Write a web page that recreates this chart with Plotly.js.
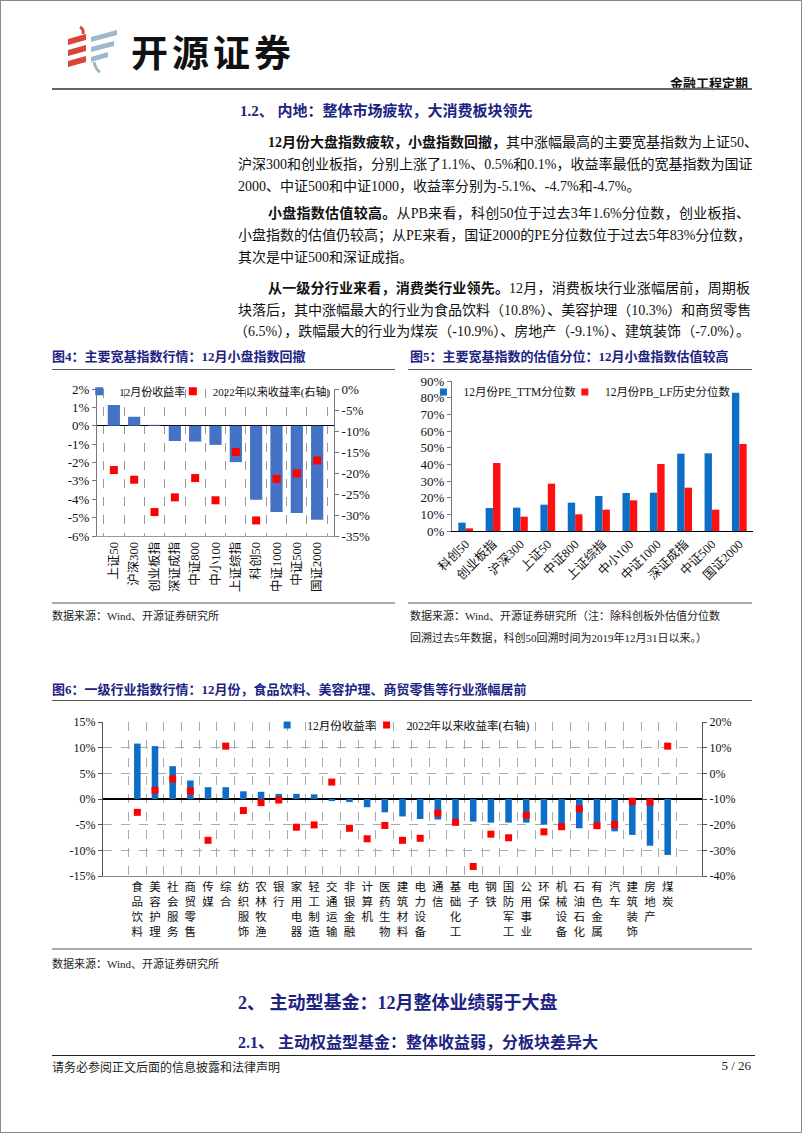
<!DOCTYPE html>
<html><head><meta charset="utf-8">
<script src="https://cdn.plot.ly/plotly-3.0.1.min.js"></script>
<style>
html,body{margin:0;padding:0;background:#fff;}
#page{position:relative;width:802px;height:1133px;overflow:hidden;background:#fff;font-family:"Liberation Serif","Noto Sans CJK SC",serif;color:#111;}
#frame{position:absolute;left:0;top:0;width:800px;height:1131px;border:1px solid #8a8a8a;box-sizing:content-box;pointer-events:none;}
.abs{position:absolute;white-space:nowrap;}
.ln{position:absolute;left:238px;width:512px;font-size:14px;line-height:18px;text-align:justify;text-align-last:justify;white-space:nowrap;}
.ln.ind{left:268px;width:482px;}
.ln.last{text-align-last:left;}
b{font-weight:700;}
.navy{color:#1c2383;font-weight:700;}
.hr{position:absolute;height:0;}
.src{font-size:11px;color:#222;}
</style></head>
<body><div id="page">
<div id="frame"></div>
<svg class="abs" style="left:64px;top:25px" width="60" height="50" viewBox="0 0 60 50">
  <path d="M16 2 q4 2 3 7" stroke="#d8453a" stroke-width="3" fill="none"/>
  <polygon points="4,14 22,9 22,15 4,20" fill="#d8453a"/>
  <polygon points="4,25 22,20 22,26 4,31" fill="#d8453a"/>
  <polygon points="4,36 22,31 22,37 4,42" fill="#d8453a"/>
  <polygon points="27,12 53,5 53,10 27,17" fill="#9db8c8"/>
  <polygon points="27,22 50,16 50,21 27,27" fill="#9db8c8"/>
  <polygon points="27,32 44,27 44,32 27,37" fill="#9db8c8"/>
  <path d="M30 37 q2 8 6 10" stroke="#9db8c8" stroke-width="3" fill="none"/>
</svg>
<div class="abs" style="left:131px;top:24px;font-family:'Noto Sans CJK SC';font-weight:700;font-size:37px;letter-spacing:4px;color:#111;">开源证券</div>
<div class="abs" style="right:54px;top:73px;font-size:13px;font-weight:700;">金融工程定期</div>
<div class="hr" style="left:52px;width:700px;top:88px;border-top:2px solid #666;"></div>

<div class="abs navy" style="left:240px;top:99px;font-size:15px;">1.2、 内地：整体市场疲软，大消费板块领先</div>

<div class="ln ind" style="top:134px;"><b>12月份大盘指数疲软，小盘指数回撤，</b>其中涨幅最高的主要宽基指数为上证50、</div>
<div class="ln" style="top:156px;">沪深300和创业板指，分别上涨了1.1%、0.5%和0.1%，收益率最低的宽基指数为国证</div>
<div class="ln last" style="top:178px;">2000、中证500和中证1000，收益率分别为-5.1%、-4.7%和-4.7%。</div>

<div class="ln ind" style="top:205px;"><b>小盘指数估值较高。</b>从PB来看，科创50位于过去3年1.6%分位数，创业板指、</div>
<div class="ln" style="top:227px;">小盘指数的估值仍较高；从PE来看，国证2000的PE分位数位于过去5年83%分位数，</div>
<div class="ln last" style="top:249px;">其次是中证500和深证成指。</div>

<div class="ln ind" style="top:280px;"><b>从一级分行业来看，消费类行业领先。</b>12月，消费板块行业涨幅居前，周期板</div>
<div class="ln" style="top:302px;">块落后，其中涨幅最大的行业为食品饮料（10.8%）、美容护理（10.3%）和商贸零售</div>
<div class="ln" style="top:323px;left:234px;width:516px;">（6.5%），跌幅最大的行业为煤炭（-10.9%）、房地产（-9.1%）、建筑装饰（-7.0%）。</div>

<div class="abs navy" style="left:52px;top:346px;font-size:13px;">图4：主要宽基指数行情：12月小盘指数回撤</div>
<div class="hr" style="left:52px;width:343px;top:369px;border-top:1.5px solid #555;"></div>
<div class="abs navy" style="left:410px;top:346px;font-size:13px;">图5：主要宽基指数的估值分位：12月小盘指数估值较高</div>
<div class="hr" style="left:408px;width:344px;top:369px;border-top:1.5px solid #555;"></div>

<div id="fig4" class="abs" style="left:52px;top:375px;width:345px;height:230px;"></div>
<div id="fig5" class="abs" style="left:408px;top:372px;width:350px;height:225px;"></div>

<div class="hr" style="left:52px;width:343px;top:602px;border-top:2px solid #aaa;"></div>
<div class="hr" style="left:408px;width:344px;top:602px;border-top:2px solid #aaa;"></div>
<div class="abs src" style="left:52px;top:607px;">数据来源：Wind、开源证券研究所</div>
<div class="abs src" style="left:410px;top:607px;">数据来源：Wind、开源证券研究所（注：除科创板外估值分位数</div>
<div class="abs src" style="left:410px;top:629px;">回溯过去5年数据，科创50回溯时间为2019年12月31日以来。）</div>

<div class="abs navy" style="left:52px;top:679px;font-size:13px;">图6：一级行业指数行情：12月份，食品饮料、美容护理、商贸零售等行业涨幅居前</div>
<div class="hr" style="left:52px;width:700px;top:700px;border-top:1.5px solid #555;"></div>
<div id="fig6" class="abs" style="left:52px;top:710px;width:700px;height:235px;"></div>
<div class="hr" style="left:52px;width:700px;top:948px;border-top:2px solid #aaa;"></div>
<div class="abs src" style="left:52px;top:955px;">数据来源：Wind、开源证券研究所</div>

<div class="abs navy" style="left:238px;top:988px;font-size:18px;">2、 主动型基金：12月整体业绩弱于大盘</div>
<div class="abs navy" style="left:238px;top:1029px;font-size:16px;">2.1、 主动权益型基金：整体收益弱，分板块差异大</div>
<div class="hr" style="left:52px;width:703px;top:1055px;border-top:1.5px solid #222;"></div>
<div class="abs" style="left:52px;top:1058px;font-size:12px;color:#222;">请务必参阅正文后面的信息披露和法律声明</div>
<div class="abs" style="right:51px;top:1058px;font-size:13px;color:#222;">5 / 26</div>
</div>
<script>
// ---------- data ----------
const fig4Cats = ['上证50','沪深300','创业板指','深证成指','中证800','中小100','上证综指','科创50','中证1000','中证500','国证2000'];
const fig4Dec = [1.13,0.49,0.05,-0.83,-0.86,-1.04,-1.98,-4.03,-4.70,-4.75,-5.12];
const fig4Ytd = [-19.3,-21.6,-29.3,-25.8,-21.2,-26.5,-15.0,-31.3,-21.4,-20.1,-17.0];
const fig4LeftTicks = [2,1,0,-1,-2,-3,-4,-5,-6];
const fig4RightTicks = [0,-5,-10,-15,-20,-25,-30,-35];

const fig5Cats = ['科创50','创业板指','沪深300','上证50','中证800','上证综指','中小100','中证1000','深证成指','中证500','国证2000'];
const fig5PE = [5.0,13.8,14.0,15.8,17.0,21.0,22.8,23.0,46.4,46.6,83.0];
const fig5PB = [1.6,40.8,8.6,28.4,10.0,12.8,18.4,40.2,26.0,12.8,52.2];
const fig5Ticks = [0,10,20,30,40,50,60,70,80,90];

const fig6Cats = ['食品饮料','美容护理','社会服务','商贸零售','传媒','综合','纺织服饰','农林牧渔','银行','家用电器','轻工制造','交通运输','非银金融','计算机','医药生物','建筑材料','电力设备','通信','基础化工','电子','钢铁','国防军工','公用事业','环保','机械设备','石油石化','有色金属','汽车','建筑装饰','房地产','煤炭'];
const fig6Dec = [10.8,10.3,6.4,3.6,2.3,2.3,1.5,1.4,1.0,1.0,0.9,-0.4,-0.6,-1.6,-2.6,-3.4,-3.9,-4.0,-5.0,-4.4,-4.6,-4.6,-4.6,-5.0,-5.8,-5.7,-5.6,-6.3,-7.0,-9.1,-10.9];
const fig6Ytd = [-15.2,-6.6,-2.2,-6.9,-26.1,10.6,-14.5,-11.4,-10.4,-21.0,-20.1,-3.4,-21.4,-25.5,-20.3,-26.1,-25.3,-15.5,-19.1,-36.3,-23.7,-25.1,-16.3,-22.8,-20.8,-13.8,-20.4,-20.0,-10.9,-11.2,10.6];
const fig6LeftTicks = [15,10,5,0,-5,-10,-15];
const fig6RightTicks = [20,10,0,-10,-20,-30,-40];

const nameDec = '12月份收益率';
const nameYtd = '2022年以来收益率(右轴)';
const namePE = '12月份PE_TTM分位数';
const namePB = '12月份PB_LF历史分位数';

// ---------- helpers ----------
const FONT = '"Liberation Serif","Noto Sans CJK SC",serif';
const pct = v => v + '%';
const cfg = {displayModeBar:false, staticPlot:true};
const leg = (x, y, size) => ({orientation:'h', x:x, y:y, xanchor:'left', yanchor:'middle',
  bgcolor:'rgba(0,0,0,0)', font:{size:size, family:FONT, color:'#111'}, itemwidth:30});
// legend-only key (small square like the original's legend glyph)
const key = (name, color, size, legendId, yaxis) => ({type:'scatter', mode:'markers', x:[null], y:[null],
  name:name, legend:legendId, yaxis:yaxis || 'y', marker:{symbol:'square', size:size, color:color}, showlegend:true});

// ---------- Figure 4 ----------
Plotly.newPlot('fig4', [
  {type:'bar', x:fig4Cats, y:fig4Dec, name:nameDec, marker:{color:'#4472C4'}, width:0.6, yaxis:'y', showlegend:false},
  {type:'scatter', mode:'markers', x:fig4Cats, y:fig4Ytd, name:nameYtd, yaxis:'y2', legend:'legend2',
   marker:{symbol:'square', size:8, color:'#FF0000'}},
  key(nameDec, '#4472C4', 8, 'legend')
], {
  width:345, height:230, margin:{l:45, r:63, t:14, b:69, autoexpand:false},
  paper_bgcolor:'rgba(0,0,0,0)', plot_bgcolor:'rgba(0,0,0,0)',
  font:{family:FONT, size:13, color:'#111'},
  showlegend:true,
  legend:leg(-0.075, 0.985, 11),
  legend2:leg(0.32, 0.985, 11),
  xaxis:{type:'category', tickson:'boundaries', showgrid:true, griddash:'dash', gridcolor:'#999', gridwidth:1,
         ticks:'', tickangle:-90, tickfont:{size:12.5}, showline:true, linecolor:'#999', linewidth:1},
  yaxis:{range:[-6,2], tickvals:fig4LeftTicks, ticktext:fig4LeftTicks.map(pct), showgrid:false,
         zeroline:true, zerolinecolor:'#000', zerolinewidth:1, showline:true, linecolor:'#777', linewidth:1,
         ticks:'outside', ticklen:4, tickcolor:'#777'},
  yaxis2:{range:[-35,0], overlaying:'y', side:'right', tickvals:fig4RightTicks, ticktext:fig4RightTicks.map(pct),
          showgrid:false, zeroline:false, showline:true, linecolor:'#777', linewidth:1,
          ticks:'outside', ticklen:4, tickcolor:'#777'}
}, cfg);

// ---------- Figure 5 ----------
Plotly.newPlot('fig5', [
  {type:'bar', x:fig5Cats, y:fig5PE, name:namePE, marker:{color:'#0C6EC6'}, showlegend:false},
  {type:'bar', x:fig5Cats, y:fig5PB, name:namePB, marker:{color:'#FF1010'}, showlegend:false},
  key(namePE, '#0C6EC6', 7, 'legend'),
  key(namePB, '#FF1010', 7, 'legend2')
], {
  width:350, height:225, margin:{l:44, r:5, t:9, b:66, autoexpand:false},
  paper_bgcolor:'rgba(0,0,0,0)', plot_bgcolor:'rgba(0,0,0,0)',
  font:{family:FONT, size:13, color:'#111'},
  barmode:'group', bargap:0.46, bargroupgap:0,
  showlegend:true,
  legend:leg(-0.095, 0.927, 11.5),
  legend2:leg(0.375, 0.927, 11.5),
  xaxis:{type:'category', showgrid:false, ticks:'', tickangle:-45, tickfont:{size:12.5},
         showline:true, linecolor:'#000', linewidth:1},
  yaxis:{range:[0,90], tickvals:fig5Ticks, ticktext:fig5Ticks.map(pct), showgrid:false, zeroline:false,
         showline:true, linecolor:'#777', linewidth:1, ticks:'outside', ticklen:4, tickcolor:'#777'}
}, cfg);

// ---------- Figure 6 ----------
const stacked = s => s.split('').join('<br>');
Plotly.newPlot('fig6', [
  {type:'bar', x:fig6Cats, y:fig6Dec, name:nameDec, marker:{color:'#0C6EC6'}, width:0.37, yaxis:'y', showlegend:false},
  {type:'scatter', mode:'markers', x:fig6Cats, y:fig6Ytd, name:nameYtd, yaxis:'y2', legend:'legend2',
   marker:{symbol:'square', size:7, color:'#FF0000'}},
  key(nameDec, '#0C6EC6', 7, 'legend')
], {
  width:700, height:235, margin:{l:51, r:50, t:12, b:69, autoexpand:false},
  paper_bgcolor:'rgba(0,0,0,0)', plot_bgcolor:'rgba(0,0,0,0)',
  font:{family:FONT, size:12, color:'#111'},
  showlegend:true,
  legend:leg(0.274, 0.98, 11.5),
  legend2:leg(0.44, 0.98, 11.5),
  xaxis:{type:'category', tickson:'boundaries', showgrid:true, griddash:'dash', gridcolor:'#aaa', gridwidth:1,
         ticks:'', tickangle:0, tickfont:{size:11.5}, tickvals:fig6Cats, ticktext:fig6Cats.map(stacked),
         showline:true, linecolor:'#888', linewidth:1},
  yaxis:{range:[-15,15], tickvals:fig6LeftTicks, ticktext:fig6LeftTicks.map(pct), showgrid:true, griddash:'dash',
         gridcolor:'#aaa', gridwidth:1, zeroline:true, zerolinecolor:'#000', zerolinewidth:1.2,
         showline:true, linecolor:'#555', linewidth:1, ticks:'outside', ticklen:4, tickcolor:'#555'},
  yaxis2:{range:[-40,20], overlaying:'y', side:'right', tickvals:fig6RightTicks, ticktext:fig6RightTicks.map(pct),
          showgrid:false, zeroline:false, showline:true, linecolor:'#555', linewidth:1,
          ticks:'outside', ticklen:4, tickcolor:'#555'}
}, cfg);
</script>
</body></html>
